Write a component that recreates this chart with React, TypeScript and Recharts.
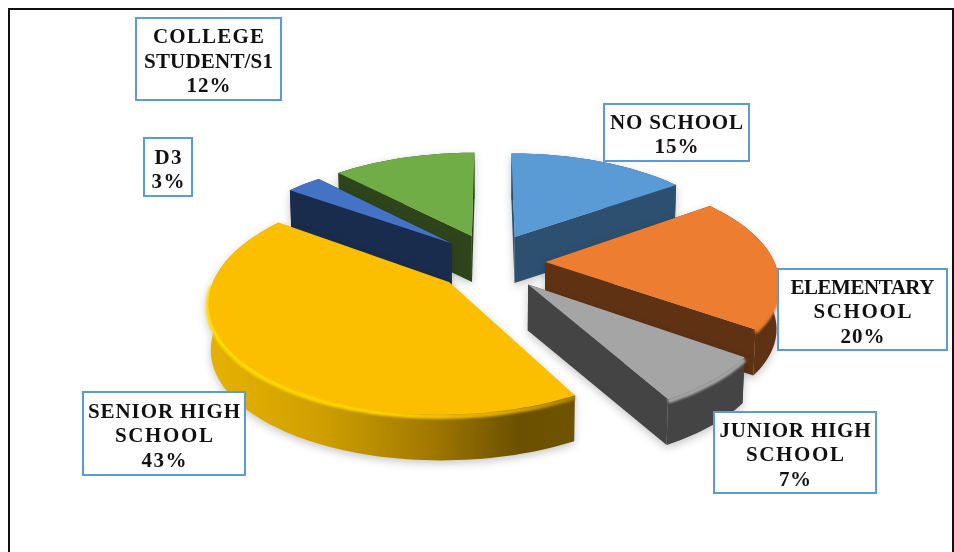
import React from 'react';
import { Pie, PieChart } from 'recharts';

// rotated so the rear slices paint first, the pie still reads clockwise from "NO SCHOOL" at 12 o'clock
const CATEGORIES = ['D3', 'COLLEGE STUDENT/S1', 'NO SCHOOL', 'ELEMENTARY SCHOOL', 'JUNIOR HIGH SCHOOL', 'SENIOR HIGH SCHOOL'];
const SHARES = [3, 12, 15, 20, 7, 43];
const LABEL_LINES = [['D3'], ['COLLEGE', 'STUDENT/S1'], ['NO SCHOOL'], ['ELEMENTARY', 'SCHOOL'], ['JUNIOR HIGH', 'SCHOOL'], ['SENIOR HIGH', 'SCHOOL']];
// the callout text is stretched in the original, width of each line incl. the % line
const LINE_WIDTHS = [[27, 33], [111, 129, 44], [133, 44], [144, 98, 44], [151, 98, 32], [152, 98, 45]];

const TOP_COLORS = ['#4472c4', '#70ad47', '#5b9bd5', '#ed7d31', '#a5a5a5', '#fbbf00'];
const WALL_COLORS = ['#1a2c4e', '#2e451c', '#2e5070', '#5f3213', '#444444', 'url(#seniorWall)'];
const BEVEL_COLORS = ['#4472c4', '#70ad47', '#5b9bd5', '#ed7d31', '#a5a5a5', 'url(#seniorRim)'];

// x, y, width, height of each callout
const LABEL_BOXES = [
  [144, 138, 48, 58],
  [136, 18, 145, 82],
  [604, 104, 145, 57],
  [778, 269, 169, 81],
  [714, 412, 162, 81],
  [83, 392, 162, 83],
];

const CHART_W = 954;
const CHART_H = 552;
const TILT = 0.455;
const PERSPECTIVE = 0.16;
const EXPLODE_U = 0.237;
const EXPLODE_V = 0.28;
const DEPTH = 46;
const COLLEGE = 1; // painted behind D3

const project = (cx: number, cy: number, r: number, u: number, v: number) => {
  const s = 1 / (1 - PERSPECTIVE * v);
  return [cx + r * u * s, cy + r * TILT * v * s];
};

const SliceShape = (props: any) => {
  const { cx, cy, outerRadius, startAngle, endAngle, midAngle, index } = props;
  const toClock = (a: number) => ((90 - a) * Math.PI) / 180;
  const mid = toClock(midAngle);
  const ou = Math.sin(mid) * EXPLODE_U;
  const ov = -Math.cos(mid) * EXPLODE_V;
  const point = (a: number, k: number) => project(cx, cy, outerRadius, ou + Math.sin(a) * k, ov - Math.cos(a) * k);

  const a0 = toClock(startAngle);
  const a1 = toClock(endAngle);
  const steps = Math.max(4, Math.ceil(Math.abs(a1 - a0) / 0.03));
  const arc: number[][] = [];
  for (let i = 0; i <= steps; i++) arc.push(point(a0 + ((a1 - a0) * i) / steps, 1));
  const apex = point(a0, 0);

  const drop = (p: number[]) => [cx + (p[0] - cx) * 0.992, p[1] + DEPTH];
  const toPath = (pts: number[][], close = true) =>
    pts.map((p, i) => `${i ? 'L' : 'M'}${p[0].toFixed(1)} ${p[1].toFixed(1)}`).join(' ') + (close ? ' Z' : '');

  const wall = WALL_COLORS[index];
  const first = arc[0];
  const last = arc[arc.length - 1];
  const rim = arc.filter((p) => p[1] > cy + 20);

  return (
    <g style={{ filter: 'drop-shadow(0 3px 4px rgba(0,0,0,0.22))' }}>
      <path d={toPath([apex, first, drop(first), drop(apex)])} fill={index === 5 ? 'none' : wall} />
      <path d={toPath([apex, last, drop(last), drop(apex)])} fill={index === 5 ? 'none' : wall} />
      <path d={toPath([...arc, ...arc.map(drop).reverse()])} fill={wall} />
      {rim.length > 1 && (
        <path
          d={toPath(rim.map((p) => [p[0], p[1] + 2]), false)}
          fill="none"
          stroke={BEVEL_COLORS[index]}
          strokeWidth={5}
          style={{ filter: 'blur(1.3px)' }}
        />
      )}
      <path d={toPath([apex, ...arc])} fill={TOP_COLORS[index]} />
    </g>
  );
};

const renderLabel = (props: any) => {
  const { index, value } = props;
  const [x, y, w, h] = LABEL_BOXES[index];
  const lines = [...LABEL_LINES[index], `${value}%`];
  return (
    <g key={CATEGORIES[index]}>
      <rect x={x} y={y} width={w} height={h} fill="#ffffff" stroke="#5b9bd5" strokeWidth={2} />
      {lines.map((line, i) => (
        <text
          key={line}
          x={x + w / 2}
          y={y + h / 2 + 8.7 + (i - (lines.length - 1) / 2) * 24.3}
          textAnchor="middle"
          textLength={LINE_WIDTHS[index][i]}
          lengthAdjust="spacing"
          fontFamily="'Liberation Serif', serif"
          fontWeight={700}
          fontSize={21}
          fill="#111111"
        >
          {line}
        </text>
      ))}
    </g>
  );
};

const chartData = CATEGORIES.map((name, i) => ({ name, value: SHARES[i] }));

export default function App() {
  return (
    <div style={{ position: 'absolute', left: 0, top: 0, width: CHART_W, height: CHART_H, overflow: 'hidden', background: '#fff', filter: 'blur(0.4px)' }}>
      <div style={{ position: 'absolute', left: 8, top: 8, width: 942, height: 560, border: '2px solid #111' }} />
      <PieChart width={CHART_W} height={CHART_H} style={{ position: 'absolute', left: 0, top: 0 }}>
        <defs>
          <linearGradient id="seniorWall" x1="0" y1="0" x2="1" y2="0">
            <stop offset="0%" stopColor="#e6b200" />
            <stop offset="30%" stopColor="#d0a000" />
            <stop offset="60%" stopColor="#a27a00" />
            <stop offset="85%" stopColor="#6b5000" />
            <stop offset="100%" stopColor="#6e5300" />
          </linearGradient>
          <linearGradient id="seniorRim" x1="0" y1="0" x2="1" y2="0">
            <stop offset="0%" stopColor="#ffdc00" />
            <stop offset="50%" stopColor="#ffd000" />
            <stop offset="80%" stopColor="#e0aa00" />
            <stop offset="100%" stopColor="#a88000" />
          </linearGradient>
        </defs>
        <Pie
          data={chartData}
          dataKey="value"
          cx={486}
          cy={257}
          outerRadius={229}
          startAngle={-216}
          endAngle={-576}
          stroke="none"
          shape={(p: any) => (p.index === COLLEGE ? <SliceShape {...p} /> : <g />)}
          isAnimationActive={false}
        />
        <Pie
          data={chartData}
          dataKey="value"
          nameKey="name"
          cx={486}
          cy={257}
          outerRadius={229}
          startAngle={-216}
          endAngle={-576}
          stroke="none"
          shape={(p: any) => (p.index === COLLEGE ? <g /> : <SliceShape {...p} />)}
          label={renderLabel}
          labelLine={false}
          isAnimationActive={false}
        />
      </PieChart>
    </div>
  );
}
